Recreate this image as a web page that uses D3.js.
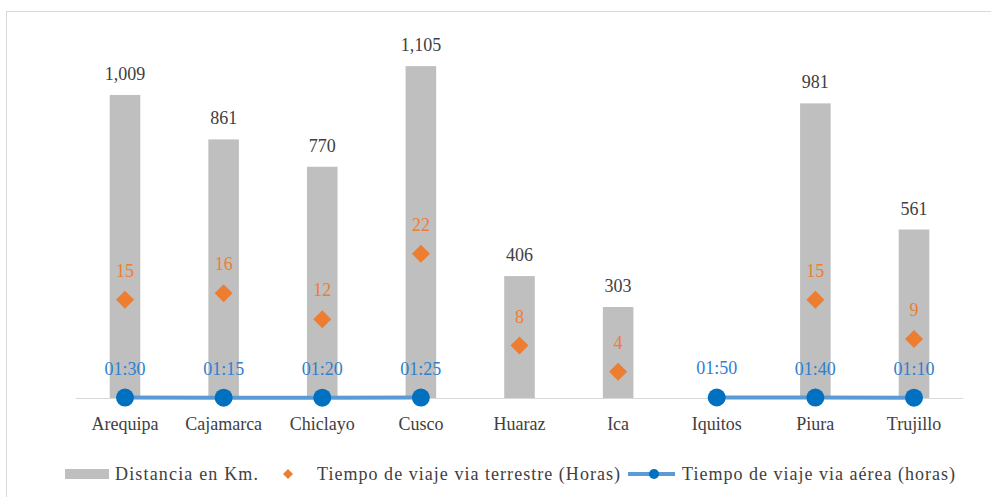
<!DOCTYPE html>
<html>
<head>
<meta charset="utf-8">
<script src="https://cdn.jsdelivr.net/npm/d3@7/dist/d3.min.js"></script>
<style>
  body { margin: 0; background: #fff; }
</style>
</head>
<body>
<div id="chart"></div>
<script>
// datos
var ciudades = ["Arequipa", "Cajamarca", "Chiclayo", "Cusco", "Huaraz", "Ica", "Iquitos", "Piura", "Trujillo"];
var distancia = [1009, 861, 770, 1105, 406, 303, null, 981, 561];
var terrestre = [15, 16, 12, 22, 8, 4, null, 15, 9];
var aerea = ["01:30", "01:15", "01:20", "01:25", null, null, "01:50", "01:40", "01:10"];
var leyenda = ["Distancia en Km.", "Tiempo de viaje via terrestre (Horas)", "Tiempo de viaje via aérea (horas)"];

var W = 991, H = 497;
var base = 398, top0 = 37.6;
var fuente = "'Liberation Serif', 'Times New Roman', Tinos, 'DejaVu Serif', serif";

var svg = d3.select("#chart").append("svg").attr("width", W).attr("height", H)
	.attr("font-family", fuente);

// marco
svg.append("rect").attr("x", 6.5).attr("y", 11.5).attr("width", W + 10).attr("height", H + 10)
	.attr("fill", "none").attr("stroke", "#d9d9d9").attr("stroke-width", 1);

var x = d3.scaleBand().domain(ciudades).range([75.7, 963.3]).paddingInner(0.69).paddingOuter(0.345);
var yKm = d3.scaleLinear().domain([0, 1200]).range([base, top0]);
var yHr = d3.scaleLinear().domain([0, 55]).range([base, top0]);

// hora "hh:mm" como fraccion de dia (como Excel)
function dia(s) {
	if (!s) return null;
	var p = s.split(":");
	return (+p[0] + p[1] / 60) / 24;
}
function cx(d) { return x(d) + x.bandwidth() / 2; }

var filas = ciudades.map(function(c, i) {
	return { c: c, km: distancia[i], t: terrestre[i], a: aerea[i], ad: dia(aerea[i]) };
});

// barras
svg.selectAll(".bar").data(filas.filter(function(d) { return d.km != null; })).enter().append("rect")
	.attr("x", function(d) { return x(d.c); })
	.attr("width", x.bandwidth())
	.attr("y", function(d) { return yKm(d.km); })
	.attr("height", function(d) { return base - yKm(d.km); })
	.attr("fill", "#bfbfbf");

svg.selectAll(".kml").data(filas.filter(function(d) { return d.km != null; })).enter().append("text")
	.attr("x", function(d) { return cx(d.c); })
	.attr("y", function(d) { return yKm(d.km) - 15; })
	.attr("text-anchor", "middle").attr("font-size", 18).attr("fill", "#404040")
	.text(function(d) { return d3.format(",")(d.km); });

// eje
svg.append("line").attr("x1", 75.7).attr("x2", 963.3).attr("y1", base + 0.5).attr("y2", base + 0.5)
	.attr("stroke", "#d9d9d9").attr("stroke-width", 1);

svg.selectAll(".cat").data(ciudades).enter().append("text")
	.attr("x", function(d) { return cx(d); })
	.attr("y", 430)
	.attr("text-anchor", "middle").attr("font-size", 18).attr("fill", "#404040")
	.text(function(d) { return d; });

// linea aerea
var linea = d3.line().defined(function(d) { return d.ad != null; })
	.x(function(d) { return cx(d.c); })
	.y(function(d) { return yHr(d.ad); });
svg.append("path").datum(filas).attr("d", linea)
	.attr("fill", "none").attr("stroke", "#5b9bd5").attr("stroke-width", 4);

var aer = filas.filter(function(d) { return d.ad != null; });
svg.selectAll(".pt").data(aer).enter().append("circle")
	.attr("cx", function(d) { return cx(d.c); })
	.attr("cy", function(d) { return yHr(d.ad); })
	.attr("r", 9).attr("fill", "#0070c0");
svg.selectAll(".al").data(aer).enter().append("text")
	.attr("x", function(d) { return cx(d.c); })
	.attr("y", function(d) { return yHr(d.ad) - 23; })
	.attr("text-anchor", "middle").attr("font-size", 18).attr("fill", "#2e7fd0")
	.text(function(d) { return d.a; });

// rombos terrestre
var diamante = d3.symbol().type(d3.symbolSquare).size(162);
var ter = filas.filter(function(d) { return d.t != null; });
svg.selectAll(".rm").data(ter).enter().append("path")
	.attr("d", diamante)
	.attr("transform", function(d) { return "translate(" + cx(d.c) + "," + yHr(d.t) + ") rotate(45)"; })
	.attr("fill", "#ed7d31");
svg.selectAll(".tl").data(ter).enter().append("text")
	.attr("x", function(d) { return cx(d.c); })
	.attr("y", function(d) { return yHr(d.t) - 23; })
	.attr("text-anchor", "middle").attr("font-size", 18).attr("fill", "#ed7d31")
	.text(function(d) { return d.t; });

// leyenda
var ly = 474, lt = 480;
svg.append("rect").attr("x", 65).attr("y", ly - 5).attr("width", 44).attr("height", 10).attr("fill", "#bfbfbf");
svg.append("text").attr("x", 115).attr("y", lt).attr("font-size", 18).attr("fill", "#404040")
	.attr("textLength", 143).text(leyenda[0]);
svg.append("path").attr("d", d3.symbol().type(d3.symbolSquare).size(50))
	.attr("transform", "translate(288," + ly + ") rotate(45)").attr("fill", "#ed7d31");
svg.append("text").attr("x", 317).attr("y", lt).attr("font-size", 18).attr("fill", "#404040")
	.attr("textLength", 303).text(leyenda[1]);
svg.append("line").attr("x1", 628).attr("x2", 675).attr("y1", ly).attr("y2", ly)
	.attr("stroke", "#5b9bd5").attr("stroke-width", 4);
svg.append("circle").attr("cx", 654).attr("cy", ly).attr("r", 5).attr("fill", "#0070c0");
svg.append("text").attr("x", 682).attr("y", lt).attr("font-size", 18).attr("fill", "#404040")
	.attr("textLength", 273).text(leyenda[2]);
</script>
</body>
</html>
